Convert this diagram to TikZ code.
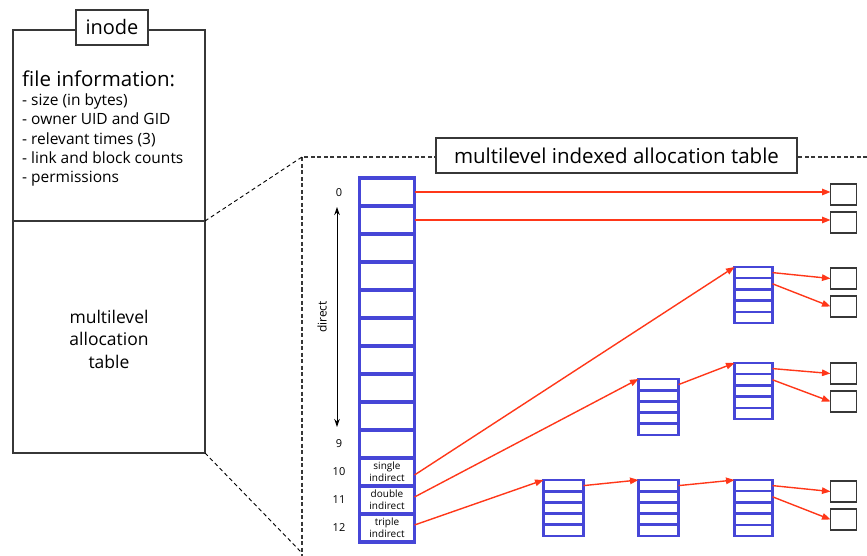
\documentclass[tikz,border=0pt]{standalone}
\usepackage{fontspec}
\setmainfont{Open Sans}
\usetikzlibrary{arrows.meta,calc}
\definecolor{tblue}{RGB}{70,70,215}
\definecolor{tred}{RGB}{255,55,25}
\definecolor{tgray}{RGB}{55,55,55}
\begin{document}
\begin{tikzpicture}[x=1pt,y=-1pt,
  plainbox/.style={draw=tgray,line width=1.4pt,inner sep=0pt,outer sep=0pt},
  titlebox/.style={draw=tgray,line width=1.4pt,fill=white,inner sep=0pt,outer sep=0pt},
  cellbox/.style={draw=tblue,line width=3.5pt,minimum width=55pt,minimum height=28pt,inner sep=0pt,outer sep=0pt,
    font=\fontsize{10}{12}\selectfont,align=center},
  idxrow/.style={draw=tblue,line width=2.8pt,minimum width=40pt,minimum height=11.2pt,inner sep=0pt,outer sep=0pt},
  idxrowthin/.style={draw=tblue,line width=2.3pt,minimum width=38pt,minimum height=11.2pt,inner sep=0pt,outer sep=0pt},
  datablk/.style={draw=tgray,line width=1.7pt,minimum width=26pt,minimum height=21pt,inner sep=0pt,outer sep=0pt},
  ptr/.style={tred,line width=1.4pt,-{Triangle[length=8.5pt,width=6.5pt]}},
  zoomline/.style={black,line width=0.9pt,dash pattern=on 4pt off 3pt},
  framedash/.style={tgray,line width=1.5pt,dash pattern=on 4pt off 2.5pt},
  numlbl/.style={font=\fontsize{11}{13}\selectfont,inner sep=0pt},
  listline/.style={anchor=base west,inner sep=0pt,font=\fontsize{15.5}{19}\selectfont}
]
\useasboundingbox (0,0) rectangle (867,556);

% ---- inode box ----
\node[plainbox,minimum width=192pt,minimum height=191pt] (infobox) at (109,125.5) {};
\node[plainbox,minimum width=192pt,minimum height=232pt] (tablebox) at (109,337) {};
\node[titlebox,minimum width=72pt,minimum height=35pt,font=\fontsize{20}{24}\selectfont] (inodelbl) at (112,27.5) {inode};

\node[anchor=base west,inner sep=0pt,font=\fontsize{20.5}{24}\selectfont] (fi) at (22,87) {file information:};
\node[listline] (l1) at (22,105.5) {- size (in bytes)};
\node[listline] (l2) at (22,124.8) {- owner UID and GID};
\node[listline] (l3) at (22,144.1) {- relevant times (3)};
\node[listline] (l4) at (22,163.4) {- link and block counts};
\node[listline] (l5) at (22,182.7) {- permissions};

\node[align=center,inner sep=0pt,font=\fontsize{17.5}{22.5}\selectfont] (mat) at (109,339) {multilevel\\allocation\\table};

% ---- dashed frame ----
\coordinate (frtr) at (867,157);
\coordinate (frtl) at (302,157);
\coordinate (frbl) at (302,556);
\coordinate (frlow) at (302,553);
\draw[framedash] (frtr) -- (frtl) -- (frbl);
\draw[zoomline] (infobox.south east) -- (frtl);
\draw[zoomline] (tablebox.south east) -- (frlow);
\node[titlebox,minimum width=361pt,minimum height=35pt,font=\fontsize{20.5}{24}\selectfont] (mialbl) at (616.5,155.5) {multilevel indexed allocation table};

% ---- main table ----
\foreach \i in {0,...,9} {
  \node[cellbox] (c\i) at (387,{192+28*\i}) {};
}
\node[cellbox] (c10) at (387,472) {single\\indirect};
\node[cellbox] (c11) at (387,500) {double\\indirect};
\node[cellbox] (c12) at (387,528) {triple\\indirect};

\node[numlbl] (n0) at (339,193) {0};
\node[numlbl] (n9) at (339,444) {9};
\node[numlbl] (n10) at (339,472) {10};
\node[numlbl] (n11) at (339,500) {11};
\node[numlbl] (n12) at (339,528) {12};

\coordinate (dtop) at (337,207);
\coordinate (dbot) at (337,427);
\draw[black,line width=1pt,{Stealth[length=8pt,width=5.5pt]}-{Stealth[length=8pt,width=5.5pt]}] (dtop) -- (dbot);
\node[rotate=90,inner sep=0pt,font=\fontsize{12}{14}\selectfont] (dirlbl) at (322,317) {direct};

% ---- index blocks ----
\foreach \k in {1,...,5} {
  \node[idxrowthin] (S-\k) at (753.5,{272.6+11.2*(\k-1)}) {};
  \node[idxrow] (DA-\k) at (658.5,{384.6+11.2*(\k-1)}) {};
  \node[idxrowthin] (DB-\k) at (753.5,{368.6+11.2*(\k-1)}) {};
  \node[idxrow] (TA-\k) at (563.5,{485.6+11.2*(\k-1)}) {};
  \node[idxrow] (TB-\k) at (658.5,{485.6+11.2*(\k-1)}) {};
  \node[idxrowthin] (TC-\k) at (753.5,{485.6+11.2*(\k-1)}) {};
}

% ---- data blocks ----
\node[datablk] (d1) at (843.5,194.5) {};
\node[datablk] (d2) at (843.5,222.5) {};
\node[datablk] (d3) at (843.5,278.5) {};
\node[datablk] (d4) at (843.5,306.5) {};
\node[datablk] (d5) at (843.5,373.5) {};
\node[datablk] (d6) at (843.5,401.5) {};
\node[datablk] (d7) at (843.5,491.5) {};
\node[datablk] (d8) at (843.5,519.5) {};

% ---- pointers ----
\draw[ptr] (c0.east) -- (c0.east -| d1.west);
\draw[ptr] (c1.east) -- (c1.east -| d2.west);
\draw[ptr] ([yshift=-3pt]c10.east) -- (S-1.north west);
\draw[ptr] ([yshift=3pt]c11.east) -- (DA-1.north west);
\draw[ptr] ([yshift=3pt]c12.east) -- (TA-1.north west);
\draw[ptr] (DA-1.east) -- (DB-1.north west);
\draw[ptr] (TA-1.east) -- (TB-1.north west);
\draw[ptr] (TB-1.east) -- (TC-1.north west);
\draw[ptr] (S-1.east) -- (d3.west);
\draw[ptr] (S-2.east) -- (d4.west);
\draw[ptr] (DB-1.east) -- (d5.west);
\draw[ptr] (DB-2.east) -- (d6.west);
\draw[ptr] (TC-1.east) -- (d7.west);
\draw[ptr] (TC-2.east) -- (d8.west);
\end{tikzpicture}
\end{document}
